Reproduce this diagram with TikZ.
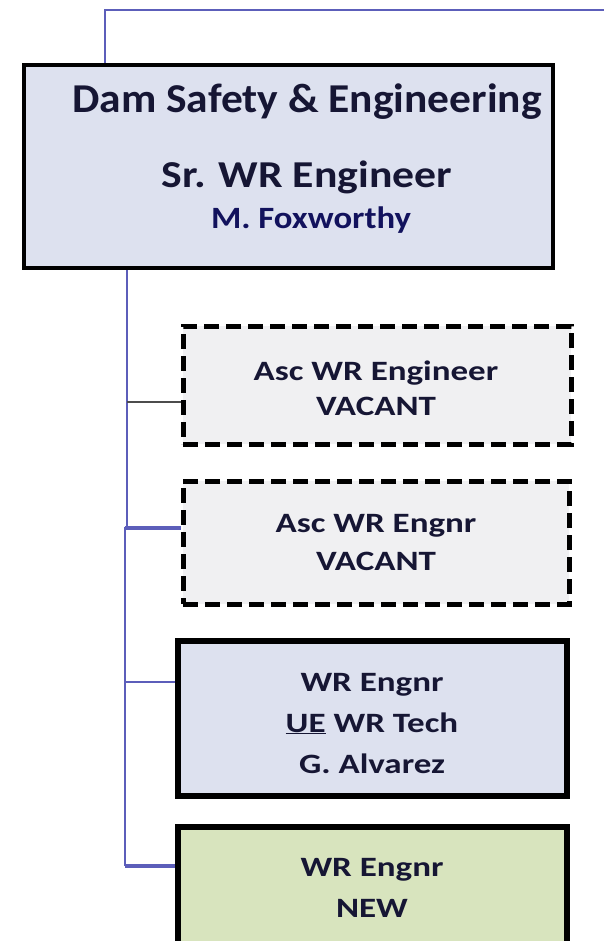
\documentclass[tikz,border=0pt]{standalone}
\usepackage{fontspec}
\setmainfont{Carlito}
\definecolor{conncol}{RGB}{92,94,186}
\definecolor{textcol}{RGB}{22,22,52}
\definecolor{bluefill}{RGB}{221,225,239}
\definecolor{greyfill}{RGB}{240,240,242}
\definecolor{greenfill}{RGB}{216,228,190}
\newcommand{\wide}[2]{\scalebox{#1}[1]{#2}}
\begin{document}
\begin{tikzpicture}[x=1pt,y=-1pt,
  conn/.style={draw=conncol,line width=2.6pt},
  thinconn/.style={draw=black!70,line width=1.4pt},
  solidbox/.style={draw=black,line width=6pt,inner sep=0pt},
  dashbox/.style={draw=black,line width=5pt,dash pattern=on 15pt off 7pt,fill=greyfill,inner sep=0pt},
  lbl/.style={text=textcol,inner sep=0pt,anchor=base},
  small/.style={lbl,font=\bfseries\fontsize{28}{32}\selectfont}
]
\useasboundingbox (0,0) rectangle (604,941);
\fill[white] (0,0) rectangle (604,941);

% boxes
\node[solidbox,line width=4pt,fill=bluefill,minimum width=529pt,minimum height=203pt] (top) at (288.5,166.5) {};
\node[dashbox,minimum width=388pt,minimum height=118pt] (asc1) at (377,385) {};
\node[dashbox,minimum width=386pt,minimum height=123pt] (asc2) at (376,542.5) {};
\node[solidbox,fill=bluefill,minimum width=389pt,minimum height=155pt] (wr1) at (372.5,718.5) {};
\node[solidbox,fill=greenfill,minimum width=389pt,minimum height=130pt] (wr2) at (372.5,892) {};

% texts
\node[lbl,font=\bfseries\fontsize{41}{46}\selectfont] (t1) at (307,113) {\wide{1.06}{Dam Safety \& Engineering}};
\node[lbl,font=\bfseries\fontsize{38}{44}\selectfont] (t2) at (307,188) {\wide{1.15}{Sr. WR Engineer}};
\node[lbl,font=\bfseries\fontsize{31}{36}\selectfont,text=textcol!80!blue] (t3) at (311,229) {\wide{1.12}{M. Foxworthy}};

\node[small] (a1) at (376,380) {\wide{1.25}{Asc WR Engineer}};
\node[small] (a2) at (376,415) {\wide{1.25}{VACANT}};
\node[small] (b1) at (376,532) {\wide{1.25}{Asc WR Engnr}};
\node[small] (b2) at (376,570) {\wide{1.25}{VACANT}};

\node[small] (c1) at (372,691) {\wide{1.25}{WR Engnr}};
\node[small] (c2) at (372,732) {\wide{1.25}{\underline{UE} WR Tech}};
\node[small] (c3) at (372,773) {\wide{1.25}{G. Alvarez}};

\node[small] (d1) at (372,876) {\wide{1.25}{WR Engnr}};
\node[small] (d2) at (372,917) {\wide{1.25}{NEW}};

% connectors
\coordinate (tr) at (604,10);
\coordinate (tl) at (105,10);
\draw[conn] (tr) -- (tl) -- (tl |- top.north);

\coordinate (s0) at (127,268);
\coordinate (s1) at (127,402);
\coordinate (s2) at (125,528);
\coordinate (s3) at (125,682);
\coordinate (s4) at (125,866);
\draw[conn] (s0 |- top.south) -- (s1) -- (127,528) -- (s2) -- (s4);
\draw[thinconn] (s1) -- (s1 -| asc1.west);
\draw[conn,line width=3.5pt] (s2) -- (s2 -| asc2.west);
\draw[conn] (s3) -- (s3 -| wr1.west);
\draw[conn,line width=3.5pt] (s4) -- (s4 -| wr2.west);
\end{tikzpicture}
\end{document}
